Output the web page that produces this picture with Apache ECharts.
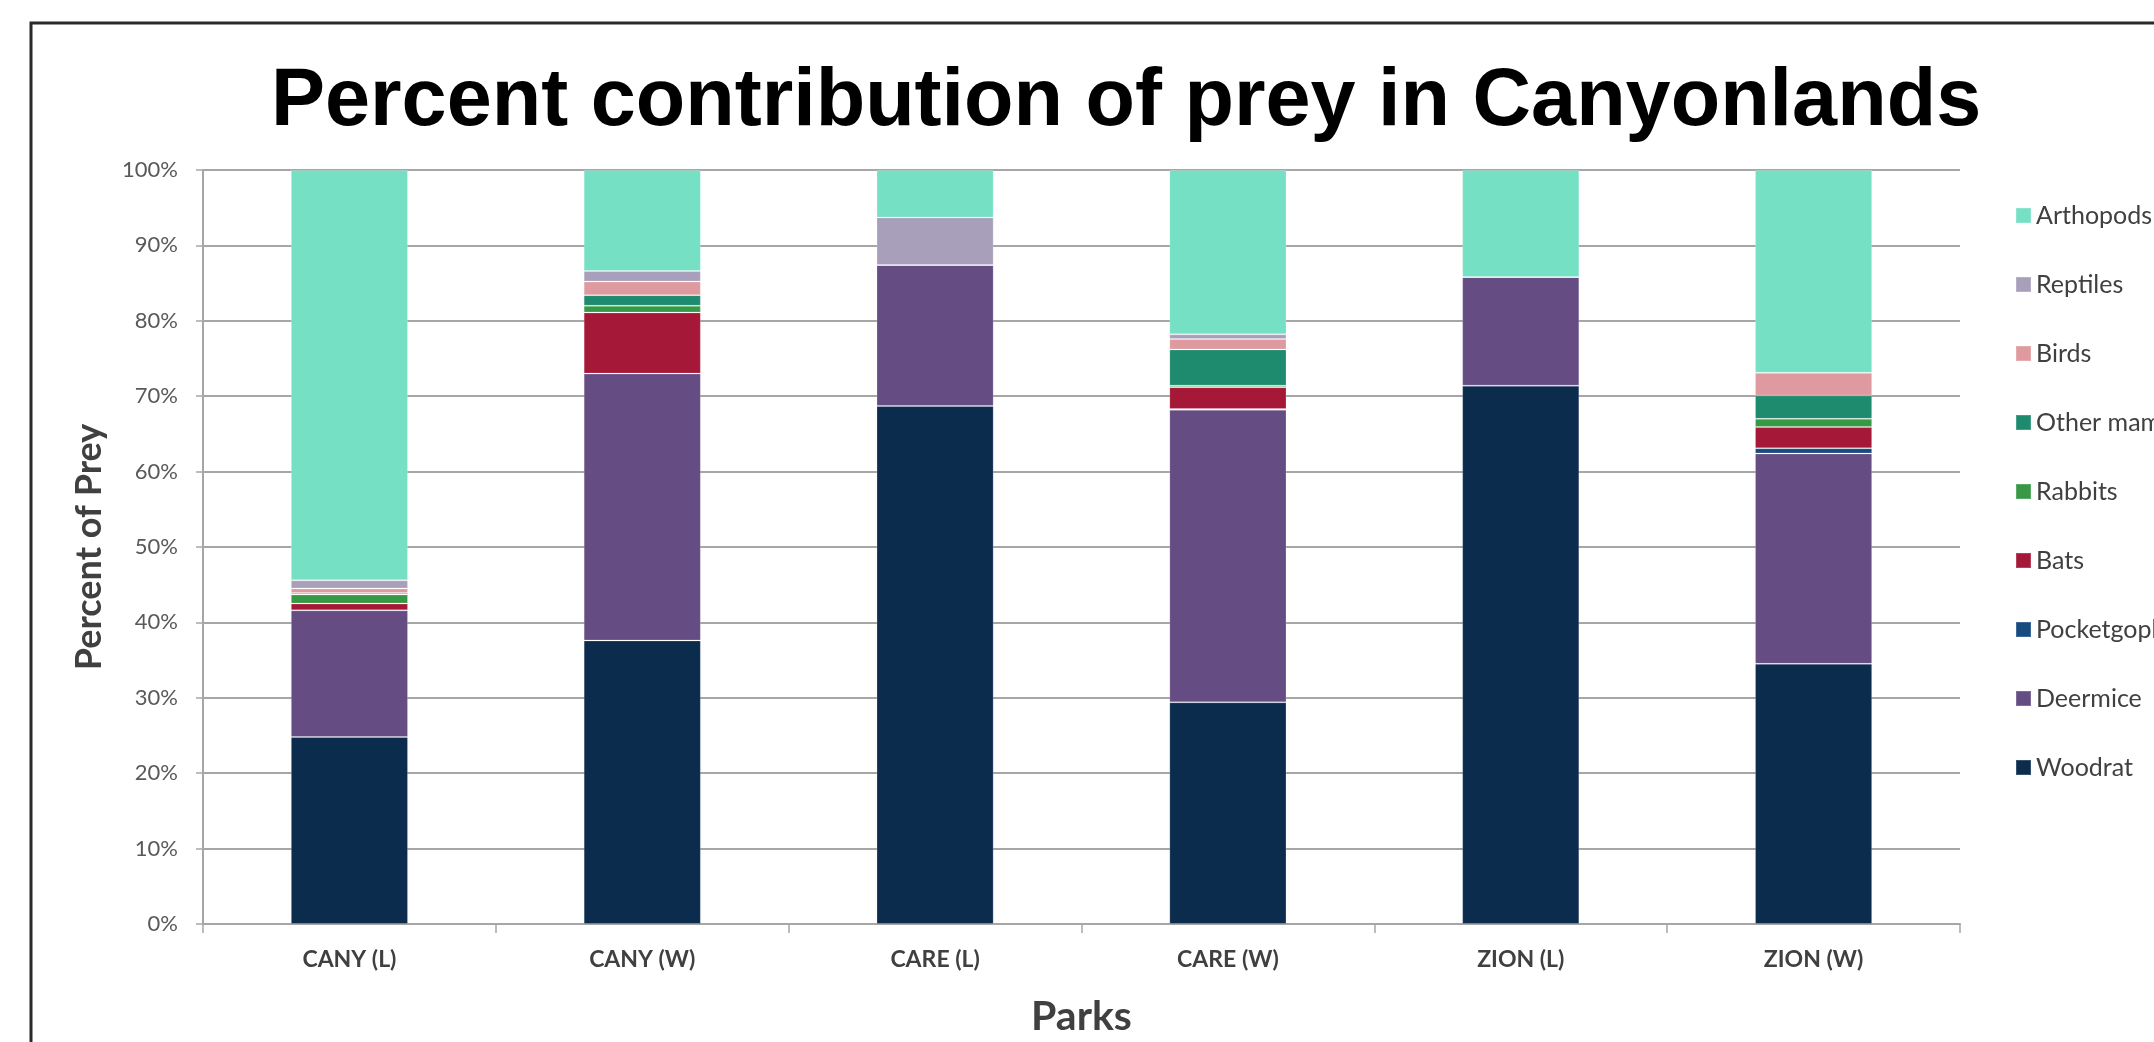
<!DOCTYPE html>
<html>
<head>
<meta charset="utf-8">
<script src="https://cdn.jsdelivr.net/npm/echarts@6/dist/echarts.min.js"></script>
<style>
html,body{margin:0;padding:0;background:#fff;}
#chart{width:2154px;height:1042px;}
</style>
</head>
<body>
<div id="chart"></div>
<script>
const categories = ['CANY (L)', 'CANY (W)', 'CARE (L)', 'CARE (W)', 'ZION (L)', 'ZION (W)'];
const woodrat       = [24.8, 37.6, 68.7, 29.4, 71.4, 34.5];
const deermice      = [16.8, 35.4, 18.7, 38.8, 14.4, 27.9];
const pocketgophers = [0,    0,    0,    0.1,  0,    0.7];
const bats          = [0.9,  8.1,  0,    2.9,  0,    2.8];
const rabbits       = [1.2,  0.9,  0,    0.2,  0,    1.1];
const otherMammals  = [0.2,  1.4,  0,    4.8,  0,    3.1];
const birds         = [0.6,  1.8,  0,    1.4,  0,    3.0];
const reptiles      = [1.1,  1.4,  6.3,  0.6,  0,    0];
const arthropods    = [54.4, 13.4, 6.3,  21.8, 14.2, 26.9];
const yTicks = [0, 10, 20, 30, 40, 50, 60, 70, 80, 90, 100];

const seriesDefs = [
  ['Woodrat', woodrat, '#0C2C4E'],
  ['Deermice', deermice, '#654C83'],
  ['Pocketgophers', pocketgophers, '#174A7E'],
  ['Bats', bats, '#A51837'],
  ['Rabbits', rabbits, '#379845'],
  ['Other mammals', otherMammals, '#1E8A6E'],
  ['Birds', birds, '#DE9A9E'],
  ['Reptiles', reptiles, '#A8A0BA'],
  ['Arthopods', arthropods, '#75E0C3']
];

const chart = echarts.init(document.getElementById('chart'), null, {renderer: 'canvas'});
const option = {
  backgroundColor: '#fff',
  animation: false,
  title: {
    text: 'Percent contribution of prey in Canyonlands',
    left: 266,
    top: 57,
    textStyle: {fontFamily: 'Liberation Sans', fontWeight: 'bold', fontSize: 81, color: '#000', lineHeight: 81}
  },
  graphic: [{
    type: 'rect',
    shape: {x: 31, y: 23, width: 2300, height: 1200},
    style: {fill: 'none', stroke: '#2a2a2a', lineWidth: 3},
    silent: true
  }],
  legend: {
    orient: 'vertical',
    left: 2010,
    top: 198,
    itemWidth: 15,
    itemHeight: 15,
    itemGap: 44,
    icon: 'rect',
    data: ['Arthopods', 'Reptiles', 'Birds', 'Other mammals', 'Rabbits', 'Bats', 'Pocketgophers', 'Deermice', 'Woodrat'],
    textStyle: {fontFamily: 'Lato', fontSize: 25, color: '#404040', lineHeight: 25}
  },
  grid: {left: 203, right: 194, top: 170, bottom: 109, containLabel: false},
  xAxis: {
    type: 'category',
    data: categories,
    name: 'Parks',
    nameLocation: 'middle',
    nameGap: 72,
    nameTextStyle: {fontFamily: 'Lato', fontWeight: 'bold', fontSize: 41, color: '#404040'},
    axisLine: {show: true, lineStyle: {color: '#A6A6A6', width: 2}},
    axisTick: {show: true, length: 9, lineStyle: {color: '#A6A6A6', width: 1.5}},
    axisLabel: {fontFamily: 'Lato', fontWeight: 'bold', fontSize: 23, color: '#404040', margin: 24},
    splitLine: {show: false}
  },
  yAxis: {
    type: 'value',
    min: 0, max: 100, interval: 10,
    name: 'Percent of Prey',
    nameLocation: 'middle',
    nameGap: 96,
    nameTextStyle: {fontFamily: 'Lato', fontWeight: 'bold', fontSize: 36, color: '#404040'},
    axisLine: {show: true, lineStyle: {color: '#A6A6A6', width: 2}},
    axisTick: {show: true, length: 7, lineStyle: {color: '#A6A6A6', width: 1.5}},
    axisLabel: {fontFamily: 'Lato', fontSize: 22, color: '#595959', margin: 25,
      formatter: function (v) { return yTicks.indexOf(v) >= 0 ? v + '%' : ''; }},
    splitLine: {show: true, lineStyle: {color: '#A6A6A6', width: 2}}
  },
  series: seriesDefs.map(function (d) {
    return {
      name: d[0],
      type: 'bar',
      stack: 'total',
      barWidth: '40%',
      data: d[1],
      itemStyle: {color: d[2], borderColor: 'rgba(255,255,255,0.18)', borderWidth: 1}
    };
  })
};
chart.setOption(option);
</script>
</body>
</html>
